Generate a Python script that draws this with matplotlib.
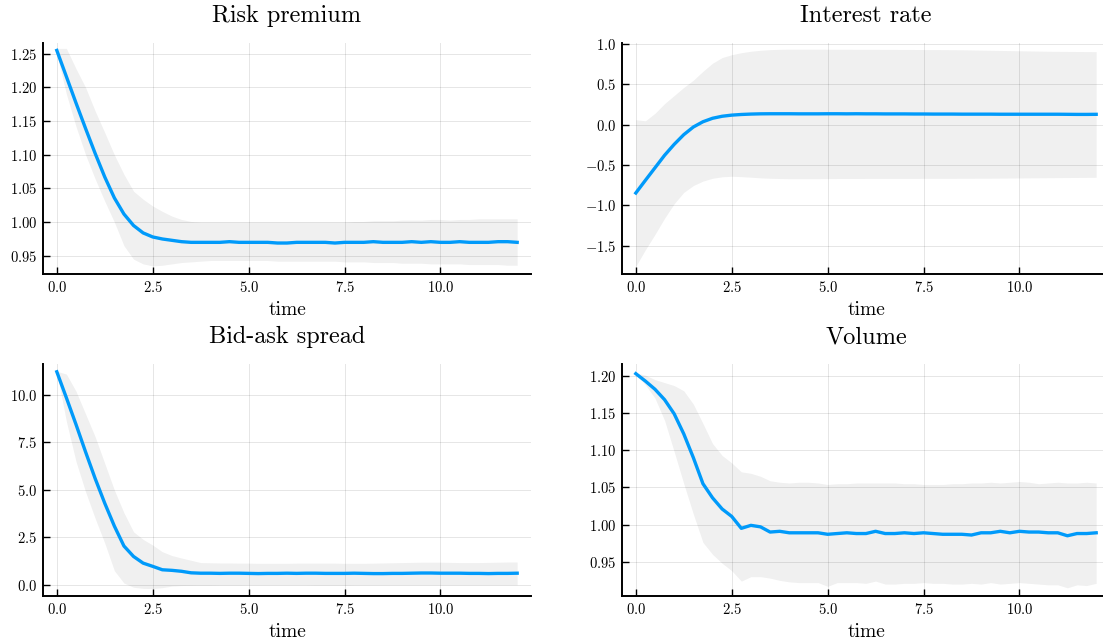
import matplotlib
matplotlib.use("Agg")
import matplotlib.pyplot as plt
from matplotlib.ticker import MultipleLocator, ScalarFormatter
import numpy as np

plt.rcParams["font.family"] = ["cmr10", "DejaVu Serif"]
plt.rcParams["mathtext.fontset"] = "cm"
plt.rcParams["axes.formatter.use_mathtext"] = True

# time grid of the impulse responses (step 0.25)
time = np.linspace(0, 12, 49)

risk_mean = [1.255, 1.216, 1.177, 1.139, 1.102, 1.067, 1.036, 1.012, 0.995, 0.984,
             0.978, 0.975, 0.973, 0.971, 0.970, 0.970, 0.970, 0.970, 0.971, 0.970,
             0.970, 0.970, 0.970, 0.969, 0.969, 0.970, 0.970, 0.970, 0.970, 0.969,
             0.970, 0.970, 0.970, 0.971, 0.970, 0.970, 0.970, 0.971, 0.970, 0.971,
             0.970, 0.970, 0.971, 0.970, 0.970, 0.970, 0.971, 0.971, 0.970]
risk_upper = [1.258, 1.258, 1.228, 1.200, 1.165, 1.133, 1.100, 1.071, 1.046, 1.034,
              1.024, 1.016, 1.009, 1.004, 1.001, 1.000, 1.000, 1.000, 1.000, 1.000,
              1.000, 1.000, 1.000, 1.000, 1.000, 1.000, 1.000, 1.000, 1.000, 1.000,
              1.000, 1.001, 1.001, 1.002, 1.002, 1.002, 1.003, 1.003, 1.003, 1.004,
              1.004, 1.003, 1.004, 1.004, 1.005, 1.005, 1.005, 1.005, 1.005]
risk_lower = [1.250, 1.190, 1.142, 1.100, 1.064, 1.031, 1.000, 0.965, 0.945, 0.938,
              0.935, 0.936, 0.938, 0.940, 0.941, 0.942, 0.943, 0.943, 0.943, 0.943,
              0.943, 0.943, 0.943, 0.942, 0.942, 0.942, 0.942, 0.942, 0.942, 0.942,
              0.941, 0.941, 0.941, 0.940, 0.940, 0.940, 0.939, 0.939, 0.939, 0.938,
              0.938, 0.938, 0.938, 0.937, 0.937, 0.937, 0.937, 0.936, 0.936]

rate_mean = [-0.847, -0.690, -0.535, -0.380, -0.245, -0.125, -0.030, 0.035, 0.078, 0.103,
             0.117, 0.125, 0.130, 0.133, 0.134, 0.134, 0.134, 0.133, 0.133, 0.133,
             0.134, 0.134, 0.133, 0.134, 0.133, 0.133, 0.132, 0.132, 0.132, 0.131,
             0.131, 0.130, 0.130, 0.130, 0.129, 0.129, 0.129, 0.129, 0.128, 0.128,
             0.128, 0.128, 0.128, 0.128, 0.128, 0.127, 0.126, 0.126, 0.127]
rate_upper = [0.060, 0.047, 0.140, 0.260, 0.360, 0.460, 0.550, 0.660, 0.760, 0.830,
              0.865, 0.890, 0.908, 0.920, 0.928, 0.932, 0.934, 0.934, 0.934, 0.934,
              0.933, 0.933, 0.933, 0.932, 0.932, 0.932, 0.931, 0.931, 0.930, 0.930,
              0.929, 0.929, 0.928, 0.927, 0.926, 0.924, 0.922, 0.920, 0.918, 0.916,
              0.914, 0.912, 0.910, 0.908, 0.907, 0.906, 0.905, 0.904, 0.903]
rate_lower = [-1.755, -1.550, -1.360, -1.160, -0.980, -0.840, -0.755, -0.700, -0.665, -0.647,
              -0.640, -0.645, -0.652, -0.660, -0.665, -0.668, -0.670, -0.670, -0.670, -0.670,
              -0.669, -0.668, -0.668, -0.668, -0.667, -0.667, -0.667, -0.667, -0.667, -0.667,
              -0.666, -0.666, -0.666, -0.666, -0.665, -0.665, -0.664, -0.664, -0.663, -0.662,
              -0.661, -0.660, -0.659, -0.658, -0.657, -0.656, -0.655, -0.654, -0.653]

spread_mean = [11.22, 9.85, 8.45, 7.00, 5.60, 4.30, 3.10, 2.05, 1.50, 1.15,
               0.98, 0.80, 0.77, 0.72, 0.64, 0.62, 0.62, 0.61, 0.62, 0.62,
               0.61, 0.60, 0.61, 0.61, 0.62, 0.61, 0.62, 0.62, 0.61, 0.61,
               0.61, 0.62, 0.61, 0.60, 0.60, 0.61, 0.61, 0.62, 0.63, 0.63,
               0.62, 0.62, 0.62, 0.61, 0.61, 0.60, 0.61, 0.61, 0.62]
spread_upper = [11.25, 11.10, 10.20, 9.00, 7.80, 6.40, 5.00, 3.80, 2.80, 2.40,
                2.10, 1.75, 1.55, 1.42, 1.30, 1.18, 1.17, 1.16, 1.16, 1.15,
                1.15, 1.14, 1.14, 1.14, 1.14, 1.15, 1.15, 1.15, 1.15, 1.15,
                1.14, 1.14, 1.14, 1.15, 1.16, 1.17, 1.18, 1.19, 1.20, 1.20,
                1.20, 1.19, 1.18, 1.18, 1.18, 1.19, 1.20, 1.21, 1.21]
spread_lower = [11.20, 8.60, 6.50, 4.90, 3.50, 2.20, 0.75, 0.10, -0.12, -0.18,
                -0.19, -0.14, -0.06, -0.03, -0.02, -0.01, -0.01, 0.00, 0.00, 0.00,
                0.01, 0.01, 0.01, 0.01, 0.01, 0.01, 0.01, 0.00, 0.00, 0.00,
                0.00, 0.01, 0.01, 0.01, 0.01, 0.01, 0.01, 0.01, 0.01, 0.01,
                0.01, 0.01, 0.01, 0.01, 0.01, 0.01, 0.01, 0.01, 0.01]

volume_mean = [1.203, 1.193, 1.182, 1.168, 1.149, 1.122, 1.090, 1.055, 1.036, 1.021,
               1.011, 0.995, 0.999, 0.997, 0.990, 0.991, 0.989, 0.989, 0.989, 0.989,
               0.987, 0.988, 0.989, 0.988, 0.988, 0.991, 0.988, 0.988, 0.989, 0.988,
               0.989, 0.988, 0.987, 0.987, 0.987, 0.986, 0.989, 0.989, 0.991, 0.989,
               0.991, 0.990, 0.990, 0.989, 0.989, 0.985, 0.988, 0.988, 0.989]
volume_upper = [1.204, 1.201, 1.195, 1.191, 1.187, 1.180, 1.162, 1.136, 1.109, 1.093,
                1.083, 1.071, 1.069, 1.065, 1.059, 1.057, 1.056, 1.057, 1.057, 1.056,
                1.054, 1.055, 1.055, 1.056, 1.056, 1.056, 1.056, 1.056, 1.055, 1.055,
                1.054, 1.054, 1.054, 1.055, 1.055, 1.056, 1.056, 1.057, 1.056, 1.057,
                1.058, 1.057, 1.055, 1.056, 1.057, 1.056, 1.056, 1.057, 1.056]
volume_lower = [1.202, 1.188, 1.170, 1.140, 1.098, 1.055, 1.014, 0.976, 0.960, 0.948,
                0.938, 0.924, 0.930, 0.930, 0.928, 0.925, 0.923, 0.922, 0.922, 0.922,
                0.917, 0.922, 0.922, 0.922, 0.921, 0.924, 0.920, 0.920, 0.921, 0.921,
                0.922, 0.921, 0.921, 0.920, 0.920, 0.921, 0.920, 0.922, 0.920, 0.921,
                0.922, 0.921, 0.920, 0.919, 0.919, 0.915, 0.919, 0.918, 0.921]

panels = [
    ("Risk premium", risk_mean, risk_lower, risk_upper, (0.923, 1.266), 0.05),
    ("Interest rate", rate_mean, rate_lower, rate_upper, (-1.85, 1.01), 0.5),
    ("Bid-ask spread", spread_mean, spread_lower, spread_upper, (-0.58, 11.63), 2.5),
    ("Volume", volume_mean, volume_lower, volume_upper, (0.904, 1.216), 0.05),
]

W, H = 1103, 643
# axes boxes in pixels: left, top, width, height
boxes = [(43, 43, 488, 231), (622, 43, 488, 231),
         (43, 364, 488, 232), (622, 364, 488, 232)]

fig = plt.figure(figsize=(W / 100, H / 100), dpi=100)
for (title, mean, lo, hi, ylim, step), (l, t, w, h) in zip(panels, boxes):
    ax = fig.add_axes([l / W, 1 - (t + h) / H, w / W, h / H])
    ax.fill_between(time, lo, hi, color="black", alpha=0.06, lw=0)
    ax.plot(time, mean, color="#009afa", lw=2.4)
    ax.set_xlim(-0.36, 12.36)
    ax.set_ylim(*ylim)
    ax.xaxis.set_major_locator(MultipleLocator(2.5))
    ax.yaxis.set_major_locator(MultipleLocator(step))
    fmt = ScalarFormatter(useOffset=False, useMathText=True)
    ax.yaxis.set_major_formatter(fmt)
    ax.grid(True, color="black", alpha=0.1, lw=0.7)
    ax.set_axisbelow(True)
    for side in ("top", "right"):
        ax.spines[side].set_visible(False)
    for side in ("left", "bottom"):
        ax.spines[side].set_linewidth(1.4)
    ax.tick_params(direction="in", length=5, width=1, labelsize=10.5, pad=4)
    ax.set_title(title, fontsize=17.5, pad=15)
    ax.set_xlabel("time", fontsize=14, labelpad=5)

fig.savefig("out.png", dpi=100)
